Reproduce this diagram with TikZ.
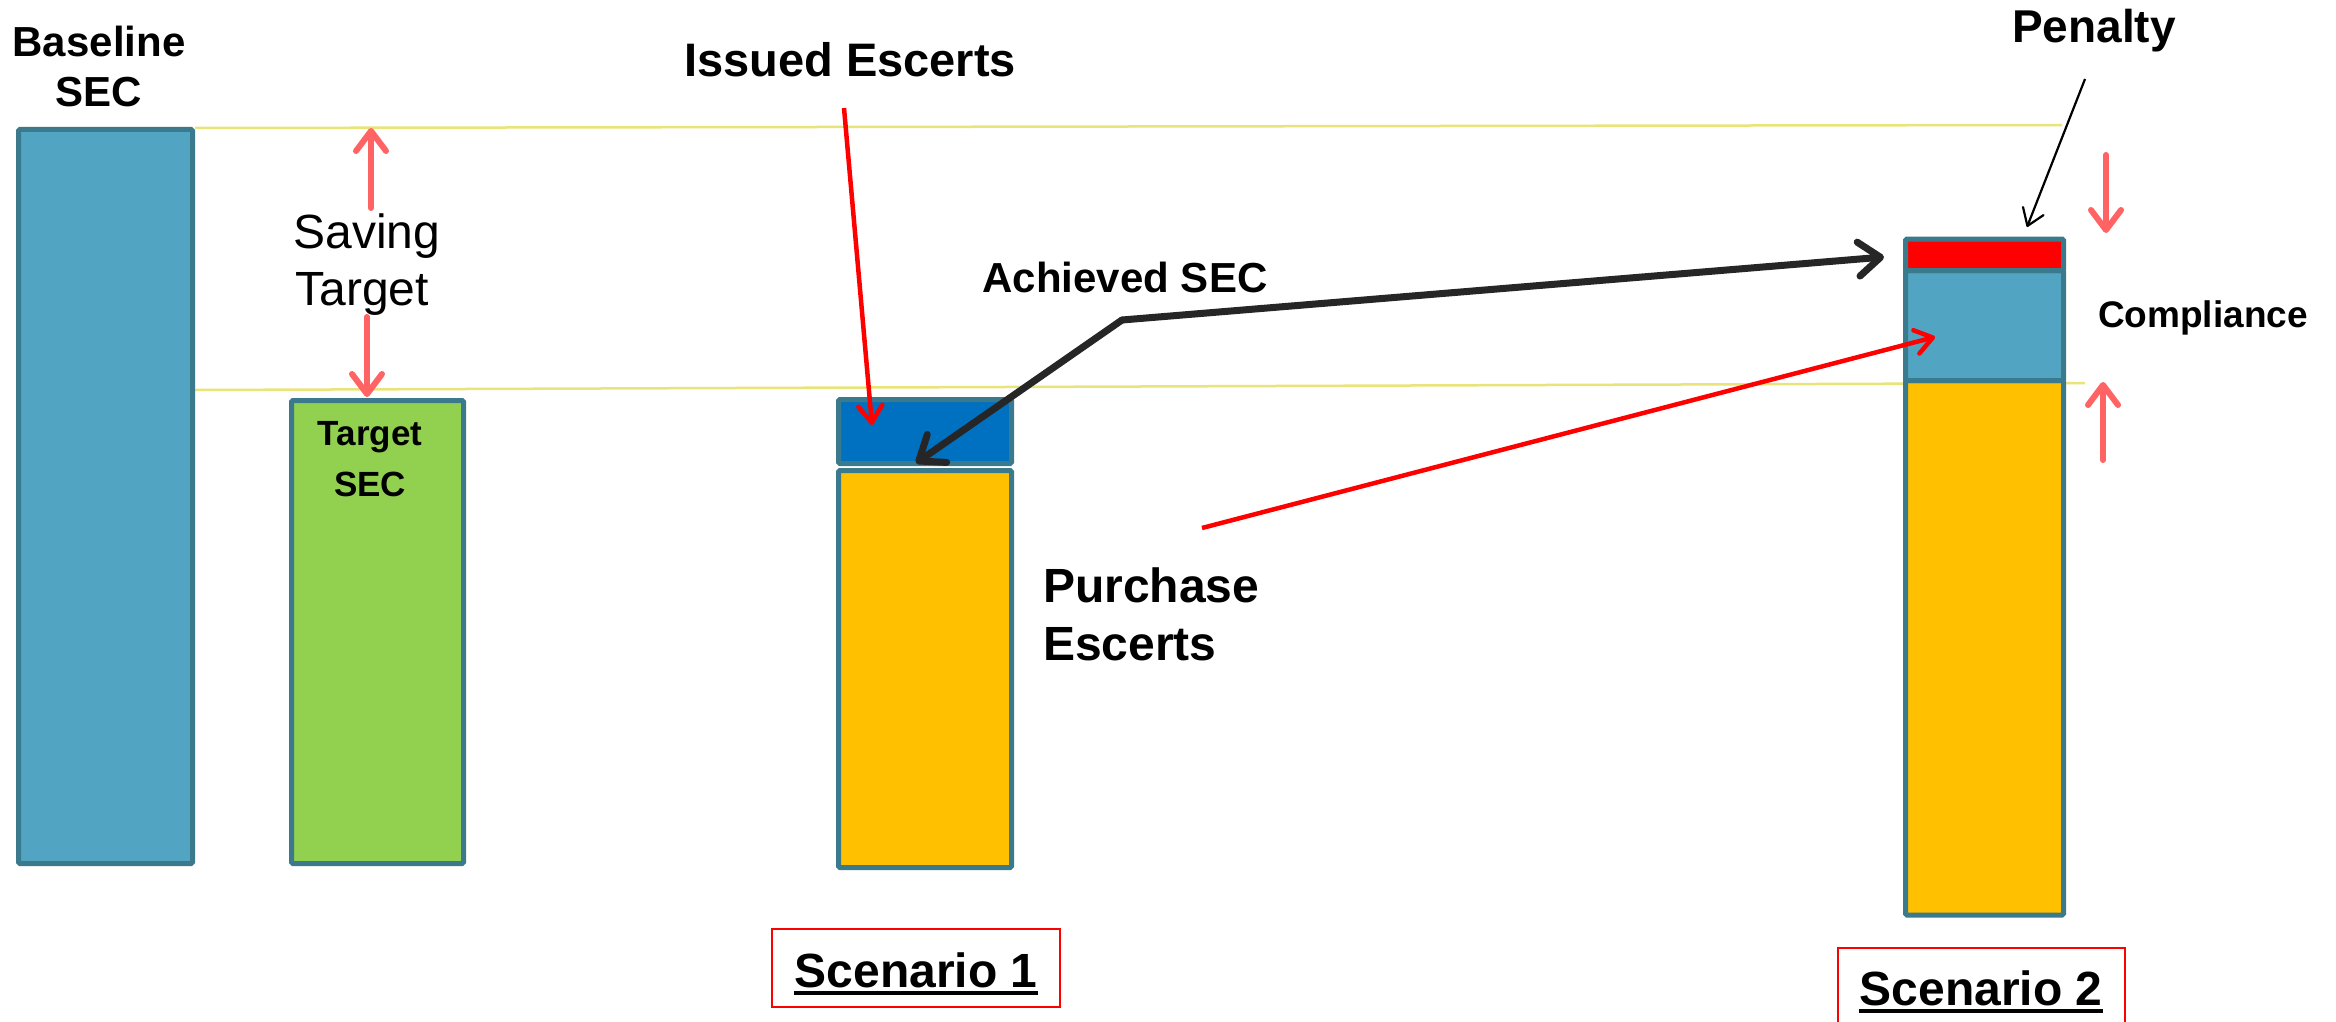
\documentclass[tikz,border=0pt]{standalone}
\usepackage{fontspec}
\setmainfont{Liberation Sans}
\usetikzlibrary{arrows.meta}
\definecolor{barteal}{RGB}{81,165,195}
\definecolor{barborder}{RGB}{59,122,140}
\definecolor{bargreen}{RGB}{146,208,80}
\definecolor{barblue}{RGB}{0,112,192}
\definecolor{baryellow}{RGB}{255,192,0}
\definecolor{barred}{RGB}{255,0,0}
\definecolor{guideline}{RGB}{232,228,122}
\definecolor{pinkarrow}{RGB}{255,99,99}
\definecolor{darkline}{RGB}{38,38,38}
\newcommand\pxfont[1]{\fontsize{#1}{#1}\selectfont}
\begin{document}
\begin{tikzpicture}[x=1pt,y=-1pt,
  bar/.style={draw=barborder, line width=5pt, rounded corners=1.5pt, inner sep=0pt, outer sep=0pt},
  lbl/.style={inner sep=0pt, anchor=base},
  guide/.style={draw=guideline, line width=2.5pt},
  pinkarr/.style={draw=pinkarrow, line width=6pt, line cap=round,
    -{Straight Barb[length=20pt, width=30pt, line cap=round, line join=round]}},
  redarr/.style={draw=barred, line width=4.5pt,
    -{Straight Barb[length=17pt, width=24pt, line cap=round, line join=round]}},
  blkarr/.style={draw=darkline, line width=7pt, line cap=round,
    -{Straight Barb[length=22pt, width=34pt, line cap=round, line join=round]}},
  thinarr/.style={draw=black, line width=2.2pt,
    -{Straight Barb[length=16pt, width=22pt, line cap=round, line join=round]}},
  scenbox/.style={draw=barred, line width=2pt, fill=white, inner sep=0pt},
]
\useasboundingbox[fill=white] (0,0) rectangle (2336,1022);

% guide lines
\coordinate (g1a) at (195,128); \coordinate (g1b) at (2062,125);
\coordinate (g2a) at (195,390); \coordinate (g2b) at (2085,383);
\draw[guide] (g1a) -- (g1b);
\draw[guide] (g2a) -- (g2b);

% bars
\node[bar, fill=barteal, minimum width=174pt, minimum height=734pt] (baseline) at (105.5,496.5) {};
\node[bar, fill=bargreen, minimum width=172pt, minimum height=463pt] (target) at (377.5,632) {};
\node[bar, fill=barblue, minimum width=173pt, minimum height=64pt] (s1blue) at (925,431.5) {};
\node[bar, fill=baryellow, minimum width=173pt, minimum height=397pt] (s1yellow) at (925,669) {};
\node[bar, fill=baryellow, minimum width=158pt, minimum height=534.5pt] (s2yellow) at (1984.5,647.75) {};
\node[bar, fill=barteal, minimum width=158pt, minimum height=110pt] (s2teal) at (1984.5,325.5) {};
\node[bar, fill=barred, minimum width=158pt, minimum height=31.5pt] (s2red) at (1984.5,254.75) {};

% labels
\node[lbl, font=\pxfont{42}\bfseries] (blab1) at (99,57) {Baseline};
\node[lbl, font=\pxfont{42}\bfseries] (blab2) at (99,107) {SEC};
\node[lbl, font=\pxfont{48}] (slab1) at (367,248) {Saving};
\node[lbl, font=\pxfont{48}] (slab2) at (362,305) {Target};
\node[lbl, font=\pxfont{35}\bfseries] (tlab1) at (370,445) {Target};
\node[lbl, font=\pxfont{35}\bfseries] (tlab2) at (370,496) {SEC};
\node[lbl, font=\pxfont{47}\bfseries] (issued) at (850,77) {Issued Escerts};
\node[lbl, font=\pxfont{42}\bfseries] (achieved) at (1125,292) {Achieved SEC};
\node[lbl, font=\pxfont{46}\bfseries] (penalty) at (2094,43) {Penalty};
\node[lbl, font=\pxfont{37}\bfseries] (compliance) at (2203,327) {Compliance};
\node[lbl, anchor=base west, font=\pxfont{48}\bfseries] (purch1) at (1043,602) {Purchase};
\node[lbl, anchor=base west, font=\pxfont{48}\bfseries] (purch2) at (1043,660) {Escerts};

% scenario boxes
\node[scenbox, minimum width=288pt, minimum height=78pt] (s1box) at (916,968) {};
\node[lbl, font=\pxfont{48}\bfseries] (s1text) at (916,987) {Scenario 1};
\draw[line width=3.5pt] ([yshift=-6pt]s1text.base west) -- ([yshift=-6pt]s1text.base east);
\node[scenbox, minimum width=287pt, minimum height=110pt] (s2box) at (1981.5,1003) {};
\node[lbl, font=\pxfont{48}\bfseries] (s2text) at (1981,1005) {Scenario 2};
\draw[line width=3.5pt] ([yshift=-6pt]s2text.base west) -- ([yshift=-6pt]s2text.base east);

% arrow coordinates
\coordinate (stUpA) at (371,208); \coordinate (stUpB) at (371,128);
\coordinate (stDnA) at (367,317); \coordinate (stDnB) at (367,397);
\coordinate (issA) at (844,108); \coordinate (issB) at (872,425);
\coordinate (achJ) at (1122,320); \coordinate (achL) at (916,463); \coordinate (achR) at (1884,257);
\coordinate (purA) at (1202,528); \coordinate (purB) at (1935,337);
\coordinate (penA) at (2085,79); \coordinate (penB) at (2027,227);
\coordinate (cDnA) at (2106,155); \coordinate (cDnB) at (2106,233);
\coordinate (cUpA) at (2103,460); \coordinate (cUpB) at (2103,382);

\draw[pinkarr] (stUpA) -- (stUpB);
\draw[pinkarr] (stDnA) -- (stDnB);
\draw[pinkarr] (cDnA) -- (cDnB);
\draw[pinkarr] (cUpA) -- (cUpB);
\draw[redarr] (issA) -- (issB);
\draw[redarr] (purA) -- (purB);
\draw[blkarr] (achJ) -- (achL);
\draw[blkarr] (achJ) -- (achR);
\draw[thinarr] (penA) -- (penB);
\end{tikzpicture}
\end{document}
